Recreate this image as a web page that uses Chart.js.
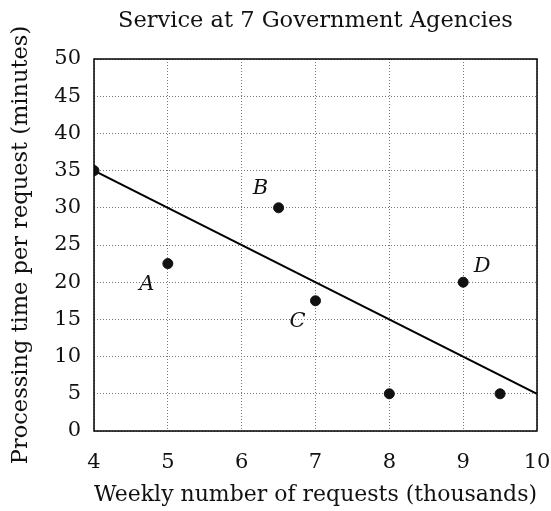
<!DOCTYPE html>
<html>
<head>
<meta charset="utf-8">
<script src="https://cdn.jsdelivr.net/npm/chart.js@4.4.0/dist/chart.umd.min.js"></script>
<style>
  body { margin: 0; background: #fff; }
  #wrap { width: 551px; height: 511px; }
</style>
</head>
<body>
<div id="wrap"><canvas id="myChart" width="551" height="511"></canvas></div>
<script>
// agency data: weekly requests (thousands) vs minutes per request
const requests = [4, 5, 6.5, 7, 8, 9, 9.5];
const minutes = [35, 22.5, 30, 17.5, 5, 20, 5];
const names = ['', 'A', 'B', 'C', '', 'D', ''];
// where each letter sits relative to its dot (px)
const nameOffset = [null, [-21, 21], [-18, -19], [-18, 21], null, [19, -16], null];

// trend line end points
const trendX = [4, 10];
const trendY = [35, 5];

const chartTitle = 'Service at 7 Government Agencies';
const serif = "'DejaVu Serif', 'Liberation Serif', serif";

const points = requests.map((x, i) => ({x: x, y: minutes[i]}));
const trend = trendX.map((x, i) => ({x: x, y: trendY[i]}));

// title over the plot, box round the plot, the A..D letters
const extras = {
  id: 'extras',
  afterDraw(chart) {
    const ctx = chart.ctx;
    const a = chart.chartArea;
    ctx.save();
    ctx.fillStyle = '#111';
    ctx.font = "22.5px " + serif;
    ctx.textAlign = 'center';
    ctx.textBaseline = 'middle';
    ctx.fillText(chartTitle, (a.left + a.right) / 2, 21);

    ctx.strokeStyle = '#000';
    ctx.lineWidth = 1.5;
    ctx.strokeRect(a.left, a.top, a.right - a.left, a.bottom - a.top);

    const xs = chart.scales.x, ys = chart.scales.y;
    ctx.font = "italic 21px " + serif;
    names.forEach((n, i) => {
      if (!n) return;
      let px = xs.getPixelForValue(requests[i]);
      let py = ys.getPixelForValue(minutes[i]);
      ctx.fillText(n, px + nameOffset[i][0], py + nameOffset[i][1]);
    });
    ctx.restore();
  }
};

const ctx = document.getElementById('myChart');

const myChart = new Chart(ctx, {
  type: 'scatter',
  data: {
    datasets: [{
      label: 'agencies',
      data: points,
      backgroundColor: '#111',
      borderColor: '#111',
      pointRadius: 5,
      pointHoverRadius: 5
    }, {
      type: 'line',
      label: 'trend',
      data: trend,
      borderColor: '#000',
      borderWidth: 2,
      pointRadius: 0,
      fill: false
    }]
  },
  options: {
    responsive: false,
    animation: false,
    layout: { padding: { left: 0, right: 14, top: 59, bottom: 0 } },
    plugins: {
      legend: { display: false },
      tooltip: { enabled: false },
      title: { display: false }
    },
    scales: {
      x: {
        type: 'linear',
        min: 4,
        max: 10,
        ticks: { stepSize: 1, color: '#111', padding: 19, font: { family: serif, size: 21 } },
        grid: { color: '#777', lineWidth: 1, drawTicks: false },
        border: { display: false, dash: [1, 2] },
        title: {
          display: true,
          text: 'Weekly number of requests (thousands)',
          color: '#111',
          font: { family: serif, size: 22.5, lineHeight: 1.2 },
          padding: { top: 0, bottom: 2 }
        },
        afterFit(scale) {
          scale.height = 80;
          scale.paddingLeft = 0;
          scale.paddingRight = 0;
        }
      },
      y: {
        min: 0,
        max: 50,
        ticks: { stepSize: 5, color: '#111', padding: 13, font: { family: serif, size: 21 } },
        grid: { color: '#777', lineWidth: 1, drawTicks: false },
        border: { display: false, dash: [1, 2] },
        title: {
          display: true,
          text: 'Processing time per request (minutes)',
          color: '#111',
          font: { family: serif, size: 22.5, lineHeight: 1.2 },
          padding: { top: 8, bottom: 0 }
        },
        afterFit(scale) {
          scale.width = 94;
          scale.paddingTop = 0;
          scale.paddingBottom = 0;
        }
      }
    }
  },
  plugins: [extras]
});
</script>
</body>
</html>
